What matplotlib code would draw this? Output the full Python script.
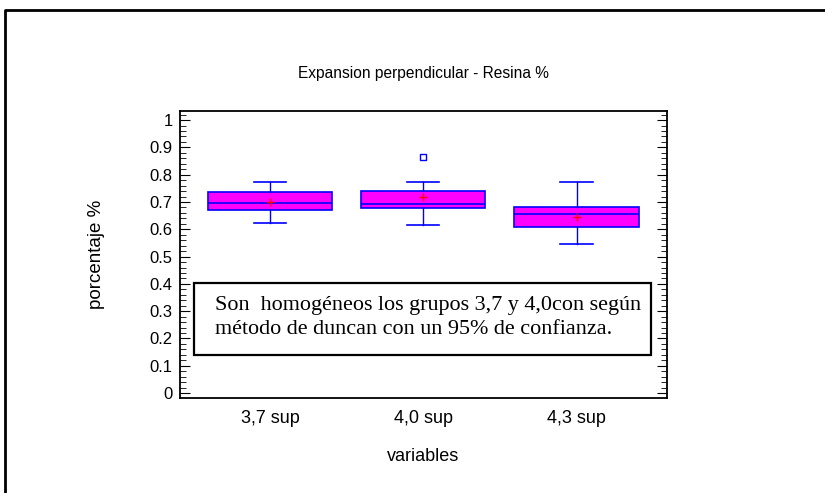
import matplotlib.pyplot as plt
from matplotlib.lines import Line2D
from matplotlib.patches import Rectangle
from matplotlib.ticker import MultipleLocator

plt.rcParams['font.family'] = ['Liberation Sans', 'DejaVu Sans']

# datos
grupos = ['3,7 sup', '4,0 sup', '4,3 sup']
bigote_inf = [0.624, 0.615, 0.546]
q1 = [0.669, 0.677, 0.609]
mediana = [0.695, 0.691, 0.656]
q3 = [0.735, 0.742, 0.680]
bigote_sup = [0.774, 0.774, 0.774]
media = [0.700, 0.720, 0.646]
atipicos = [[], [0.866], []]

stats = []
for i in range(len(grupos)):
    stats.append({'whislo': bigote_inf[i], 'q1': q1[i], 'med': mediana[i],
                  'q3': q3[i], 'whishi': bigote_sup[i], 'mean': media[i],
                  'fliers': atipicos[i], 'label': grupos[i]})

fig = plt.figure(figsize=(8.25, 4.93), dpi=100)
ax = fig.add_axes([0.2176, 0.1927, 0.5909, 0.582])

azul = '#0000ff'
ax.bxp(stats, positions=[1, 2, 3], widths=0.81, capwidths=0.21,
       showmeans=True, patch_artist=True,
       boxprops=dict(facecolor='#ff00ff', edgecolor=azul, linewidth=1.2),
       medianprops=dict(color=azul, linewidth=1.2),
       whiskerprops=dict(color=azul, linewidth=1),
       capprops=dict(color=azul, linewidth=1.2),
       meanprops=dict(marker='+', markeredgecolor='red', markersize=6),
       flierprops=dict(marker='s', markerfacecolor='none',
                       markeredgecolor=azul, markersize=5))

ax.set_xlim(0.41, 3.59)
ax.set_ylim(-0.018, 1.033)
ax.yaxis.set_major_locator(MultipleLocator(0.1))
ax.yaxis.set_minor_locator(MultipleLocator(0.02))
ax.set_yticklabels([f'{v:g}' for v in ax.get_yticks()])
ax.tick_params(axis='y', which='both', direction='in', right=True)
ax.tick_params(axis='y', which='major', length=7, labelsize=12, pad=5)
ax.tick_params(axis='y', which='minor', length=4)
ax.tick_params(axis='x', length=0, labelsize=13, pad=9)
for s in ax.spines.values():
    s.set_linewidth(1.3)

ax.set_ylabel('porcentaje %', fontsize=13.5, labelpad=32)
ax.set_xlabel('variables', fontsize=13, labelpad=15)
fig.text(0.5127, 0.85, 'Expansion perpendicular - Resina %',
         ha='center', va='center', fontsize=11.2)

# cuadro de texto
ax.add_patch(Rectangle((0.030, 0.150), 0.937, 0.251, transform=ax.transAxes,
                       facecolor='white', edgecolor='black', linewidth=1.6,
                       zorder=4))
ax.text(0.073, 0.324, 'Son  homogéneos los grupos 3,7 y 4,0con según',
        transform=ax.transAxes, ha='left', va='center',
        family='Liberation Serif', fontsize=15.9, zorder=5)
ax.text(0.073, 0.237, 'método de duncan con un 95% de confianza.',
        transform=ax.transAxes, ha='left', va='center',
        family='Liberation Serif', fontsize=15.9, zorder=5)

# marco de la figura (solo arriba e izquierda)
fig.add_artist(Line2D([5 / 825, 5 / 825, 1], [0, 1 - 10 / 493, 1 - 10 / 493],
                      transform=fig.transFigure, color='black', linewidth=2))

fig.savefig('out.png', dpi=100)
